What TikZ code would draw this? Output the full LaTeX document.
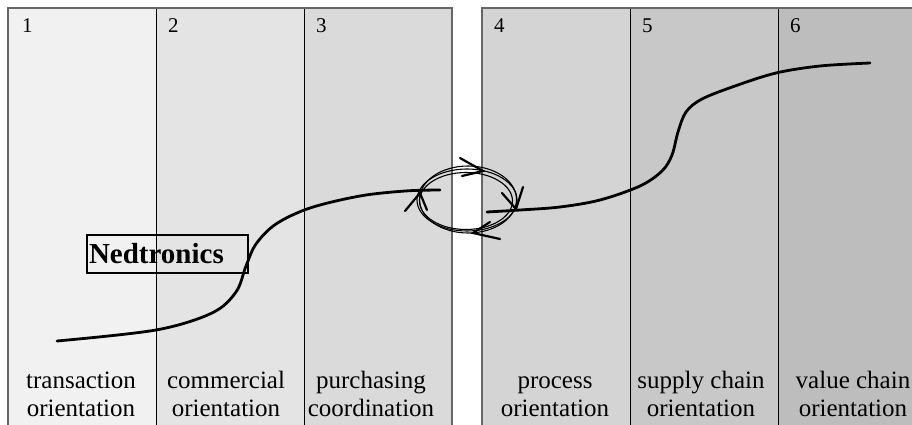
\documentclass[tikz,border=0pt]{standalone}
\usepackage{fontspec}
\setmainfont{Liberation Serif}
\begin{document}
\begin{tikzpicture}[x=1pt,y=-1pt,
  divider/.style={line width=0.9pt,draw=black},
  frame/.style={line width=1.6pt,draw=black!60},
  stagenum/.style={anchor=base west,inner sep=0pt,font=\fontsize{21}{24}\selectfont},
  stagelabel/.style={anchor=base,align=center,inner sep=0pt,font=\fontsize{25}{28}\selectfont},
  curve/.style={line width=2.8pt,line cap=round,line join=round},
  ring/.style={line width=1.1pt},
  barb/.style={line width=2.2pt,line cap=round,line join=miter},
  namebox/.style={draw,line width=2pt,text width=157pt,minimum height=38pt,inner xsep=2pt,inner ysep=0pt,
    align=left,font=\fontsize{29}{32}\bfseries\selectfont,anchor=north west}]
\definecolor{colA}{gray}{0.945}
\definecolor{colB}{gray}{0.895}
\definecolor{colC}{gray}{0.855}
\definecolor{colD}{gray}{0.83}
\definecolor{colE}{gray}{0.785}
\definecolor{colF}{gray}{0.74}
\useasboundingbox (0,0) rectangle (912,425);
\clip (0,0) rectangle (912,425);
\fill[white] (0,0) rectangle (912,425);

% stage columns
\fill[colA] (8,8) rectangle (156,440);
\fill[colB] (156,8) rectangle (304,440);
\fill[colC] (304,8) rectangle (452,440);
\fill[colD] (482,8) rectangle (630,440);
\fill[colE] (630,8) rectangle (778,440);
\fill[colF] (778,8) rectangle (926,440);
\draw[divider] (156,8) -- (156,440) (304,8) -- (304,440)
               (630,8) -- (630,440) (778,8) -- (778,440);
\draw[frame] (8,440) -- (8,8) -- (452,8) -- (452,440);
\draw[frame] (482,440) -- (482,8) -- (926,8);

% stage numbers
\node[stagenum] (n1) at (22,33) {1};
\node[stagenum] (n2) at (168,33) {2};
\node[stagenum] (n3) at (316,33) {3};
\node[stagenum] (n4) at (494,33) {4};
\node[stagenum] (n5) at (642,33) {5};
\node[stagenum] (n6) at (790,33) {6};

% stage names (base anchor sits on the second line)
\node[stagelabel] (s1) at (81,416) {transaction\\orientation};
\node[stagelabel] (s2) at (226,416) {commercial\\orientation};
\node[stagelabel] (s3) at (371,416) {purchasing\\coordination};
\node[stagelabel] (s4) at (555,416) {process\\orientation};
\node[stagelabel] (s5) at (701,416) {supply chain\\orientation};
\node[stagelabel] (s6) at (853,416) {value chain\\orientation};

% development curves
\draw[curve] plot[smooth,tension=0.55] coordinates {
  (57,341) (156,330) (212,313) (236,292) (246,266) (256,244) (276,224)
  (310,208) (360,196) (405,191) (440,190)};
\draw[curve] plot[smooth,tension=0.55] coordinates {
  (487,212) (520,210) (560,207) (600,200) (640,186) (662,171) (672,155)
  (678,132) (686,112) (702,99) (735,86) (776,73) (820,66) (870,63)};

% transition cycle
\draw[ring] (467,200) ellipse [x radius=50,y radius=31];
\draw[ring] (466,201) ellipse [x radius=46.5,y radius=28.5];
\draw[ring] (468,199.5) ellipse [x radius=48.5,y radius=33.5];
\draw[barb] (460,158) -- (483,171) -- (462,176);
\draw[barb] (502,193) -- (516,209) -- (523,187);
\draw[barb] (500,239) -- (473,233) -- (490,222);
\draw[barb] (405,211) -- (420,193) -- (427,210);

% company marker
\node[namebox] (ned) at (86,234) {Nedtronics};
\end{tikzpicture}
\end{document}
